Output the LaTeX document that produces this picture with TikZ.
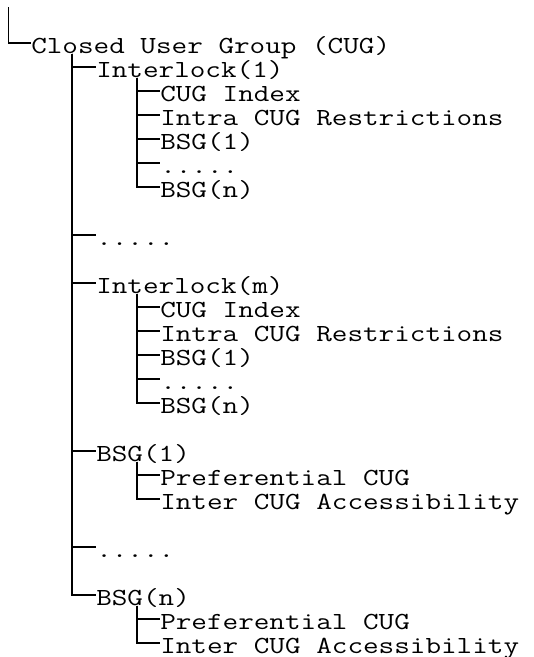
\documentclass[tikz,border=0pt]{standalone}
\usepackage{fontspec}
\newfontfamily\treefont{Latin Modern Mono}[FakeStretch=1.235]

\begin{document}
\begin{tikzpicture}[x=0.75pt, y=-0.75pt,
  item/.style = {anchor=west, inner sep=0pt, text height=15.2pt, text depth=0.2pt,
                 font=\treefont\fontsize{18.4pt}{24pt}\selectfont},
  line/.style = {line width=1.3pt},
  twig/.style = {draw, line, to path={([xshift=30.75pt]\tikztostart.south west) |- (\tikztotarget.west)}}]

\useasboundingbox (0,0) rectangle (534,657);

\coordinate (top) at (8.5,7);
\node[item] (cug) at (31,43) {Closed User Group (CUG)};

\node[item] (il1) at (96,67) {Interlock(1)};
\node[item] (il1idx) at (160,91) {CUG Index};
\node[item] (il1intra) at (160,115) {Intra CUG Restrictions};
\node[item] (il1bsg1) at (160,139) {BSG(1)};
\node[item] (il1dots) at (160,163) {.....};
\node[item] (il1bsgn) at (160,187) {BSG(n)};

\node[item] (ildots) at (96,235) {.....};

\node[item] (ilm) at (96,283) {Interlock(m)};
\node[item] (ilmidx) at (160,307) {CUG Index};
\node[item] (ilmintra) at (160,331) {Intra CUG Restrictions};
\node[item] (ilmbsg1) at (160,355) {BSG(1)};
\node[item] (ilmdots) at (160,379) {.....};
\node[item] (ilmbsgn) at (160,403) {BSG(n)};

\node[item] (bsg1) at (96,451) {BSG(1)};
\node[item] (bsg1pref) at (160,475) {Preferential CUG};
\node[item] (bsg1acc) at (160,499) {Inter CUG Accessibility};

\node[item] (bsgdots) at (96,547) {.....};

\node[item] (bsgn) at (96,595) {BSG(n)};
\node[item] (bsgnpref) at (160,619) {Preferential CUG};
\node[item] (bsgnacc) at (160,643) {Inter CUG Accessibility};

\draw[line] (top) |- (cug.west);

\path (cug) edge[twig] (il1);
\path (cug) edge[twig] (ildots);
\path (cug) edge[twig] (ilm);
\path (cug) edge[twig] (bsg1);
\path (cug) edge[twig] (bsgdots);
\path (cug) edge[twig] (bsgn);

\path (il1) edge[twig] (il1idx);
\path (il1) edge[twig] (il1intra);
\path (il1) edge[twig] (il1bsg1);
\path (il1) edge[twig] (il1dots);
\path (il1) edge[twig] (il1bsgn);

\path (ilm) edge[twig] (ilmidx);
\path (ilm) edge[twig] (ilmintra);
\path (ilm) edge[twig] (ilmbsg1);
\path (ilm) edge[twig] (ilmdots);
\path (ilm) edge[twig] (ilmbsgn);

\path (bsg1) edge[twig] (bsg1pref);
\path (bsg1) edge[twig] (bsg1acc);

\path (bsgn) edge[twig] (bsgnpref);
\path (bsgn) edge[twig] (bsgnacc);

\end{tikzpicture}
\end{document}
